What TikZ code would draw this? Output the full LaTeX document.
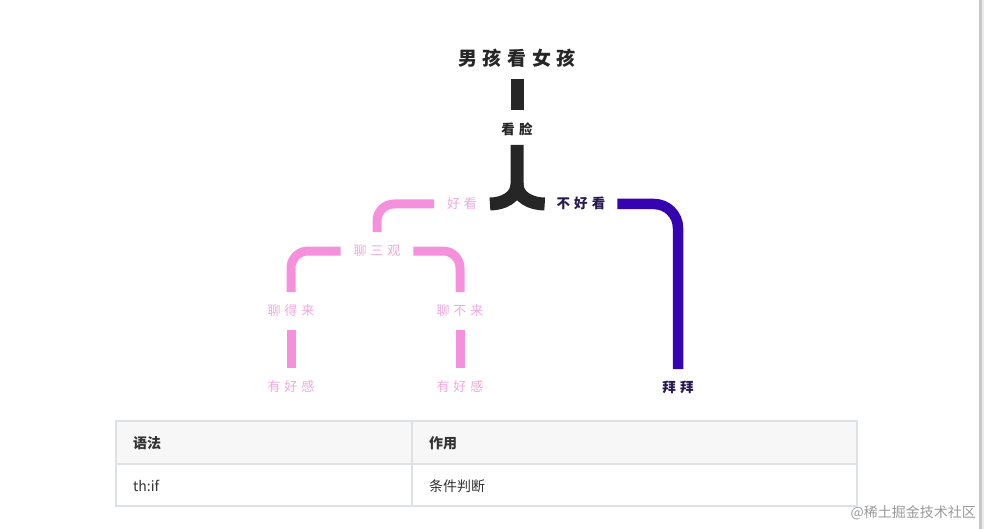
\documentclass[tikz,border=0pt]{standalone}
\usepackage{fontspec}
\setmainfont{Noto Sans CJK SC}
\newfontfamily\spaced[LetterSpace=30]{Noto Sans CJK SC}
\usepackage{tikz}
\usepackage{xcolor}

\definecolor{barblack}{HTML}{262626}
\definecolor{barpink}{HTML}{F590DC}
\definecolor{txtpink}{HTML}{F0A8DC}
\definecolor{barblue}{HTML}{3504B0}
\definecolor{txtdark}{HTML}{2A1A52}
\definecolor{tabborder}{HTML}{DFE2E5}
\definecolor{tabhead}{HTML}{F7F7F7}

\begin{document}
\begin{tikzpicture}[x=1pt,y=-1pt,
    lbl/.style={font=\spaced\fontsize{13}{13}\selectfont, inner sep=0pt,
      outer sep=13pt, text height=10.8pt, text depth=1pt},
    pinklbl/.style={lbl, text=txtpink},
    darklbl/.style={lbl, font=\spaced\bfseries\fontsize{13.5}{13.5}\selectfont, text=txtdark},
    blackbar/.style={draw=barblack, line width=13pt},
    pinkbar/.style={draw=barpink, line width=9pt, rounded corners=17pt},
    bluebar/.style={draw=barblue, line width=10.5pt, rounded corners=24pt},
    tabline/.style={draw=tabborder, line width=1.5pt},
    cell/.style={anchor=west, inner sep=0pt, text=black!80,
      font=\fontsize{14}{14}\selectfont}]
  \useasboundingbox (0,0) rectangle (984,529);

  \node[lbl, font=\spaced\bfseries\fontsize{19}{19}\selectfont, text=barblack,
    text height=16pt, text depth=1.3pt, outer sep=12pt] (title) at (517,58) {男孩看女孩};
  \node[lbl, font=\spaced\bfseries\fontsize{13.5}{13.5}\selectfont, text=barblack,
    outer sep=9pt] (kanlian) at (517,130) {看脸};
  \node[pinklbl] (haokan) at (462,204) {好看};
  \node[darklbl, outer sep=12pt] (buhaokan) at (581,204) {不好看};
  \node[pinklbl] (sanguan) at (377,251) {聊三观};
  \node[pinklbl] (liaodelai) at (291,311) {聊得来};
  \node[pinklbl] (liaobulai) at (460,311) {聊不来};
  \node[pinklbl] (haogan1) at (291,387) {有好感};
  \node[pinklbl] (haogan2) at (460,387) {有好感};
  \node[darklbl] (baibai) at (678,388) {拜拜};
  \coordinate (fork) at (517,184);

  \draw[blackbar, shorten >=5pt] (title) -- (kanlian);
  \draw[blackbar] (kanlian) -- (fork) to[out=-90,in=0] (haokan.east);
  \draw[blackbar] (fork) to[out=-90,in=180] (buhaokan.west);
  \draw[pinkbar] (haokan.west) -| (sanguan.north);
  \draw[pinkbar] (sanguan.west) -| (liaodelai.north);
  \draw[pinkbar] (sanguan.east) -| (liaobulai.north);
  \draw[pinkbar] (liaodelai) -- (haogan1);
  \draw[pinkbar] (liaobulai) -- (haogan2);
  \draw[bluebar] (buhaokan.east) -| (baibai.north);

  \draw[tabline, fill=tabhead] (116,421) rectangle (857,464);
  \draw[tabline] (116,464) rectangle (857,506);
  \draw[tabline] (412,421) -- (412,506);
  \node[cell, font=\bfseries\fontsize{14}{14}\selectfont] (synhead) at (133,443) {语法};
  \node[cell, font=\bfseries\fontsize{14}{14}\selectfont] (usehead) at (429,443) {作用};
  \node[cell] (syncell) at (133,486) {th:if};
  \node[cell] (usecell) at (429,486) {条件判断};

  \node[anchor=east, inner sep=0pt, text=black!40, font=\fontsize{14}{14}\selectfont]
    (mark) at (976,513) {@稀土掘金技术社区};
  \fill[black!22] (979,0) rectangle (981.5,529);
  \fill[black!8] (981.5,0) rectangle (984,529);
\end{tikzpicture}
\end{document}
